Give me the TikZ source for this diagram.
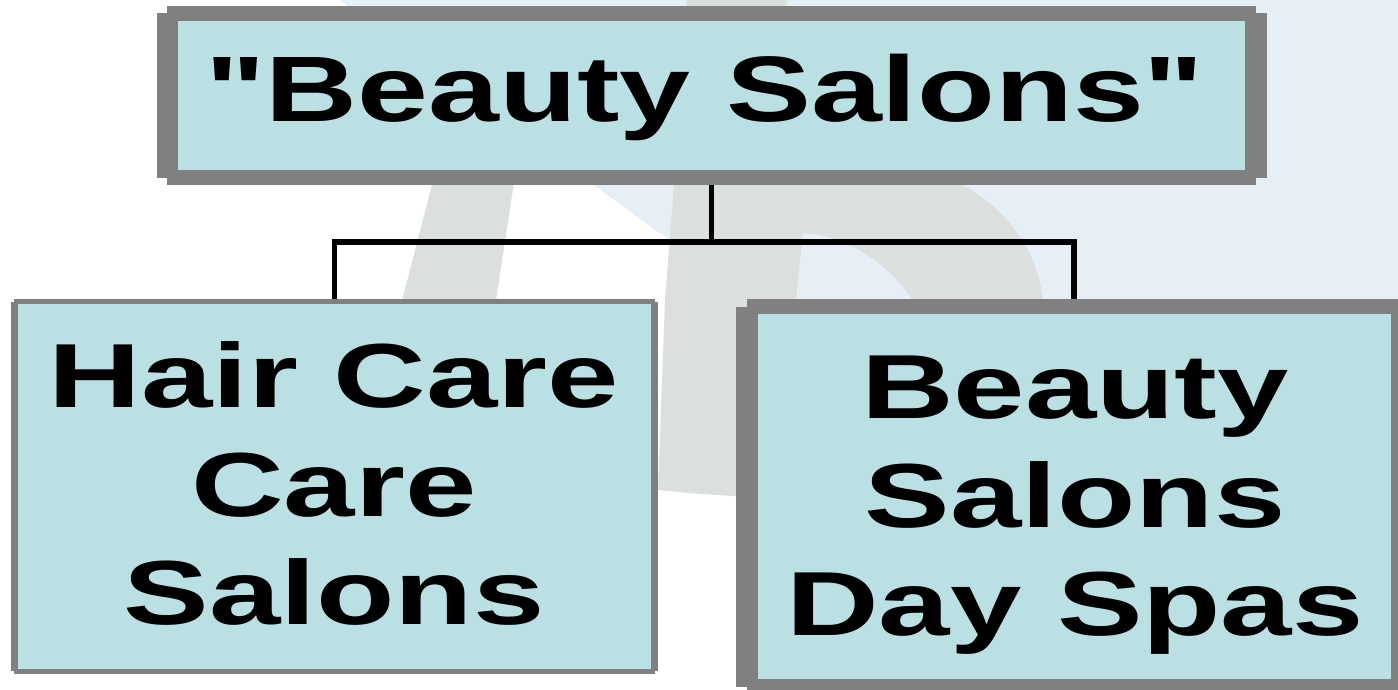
\documentclass[tikz,border=0pt]{standalone}
\usepackage{fontspec}
\newfontfamily\topfont{Liberation Sans}[FakeStretch=1.37]
\newfontfamily\boxfont{Liberation Sans}[FakeStretch=1.41]
\definecolor{boxfill}{RGB}{187,224,227}
\definecolor{framegray}{RGB}{128,128,128}
\definecolor{wmblue}{RGB}{230,238,246}
\definecolor{wmgray}{RGB}{219,224,223}
\begin{document}
\begin{tikzpicture}[x=1pt,y=-1pt,
  frame/.style={fill=framegray, draw=none, inner sep=0pt, outer sep=0pt},
  lbl/.style={font=\boxfont\bfseries\fontsize{91}{108.5}\selectfont, align=center, inner sep=0pt, text=black},
  conn/.style={draw=black, line width=5.5pt, line join=miter}]
\useasboundingbox (0,0) rectangle (1398,690);
% watermark
\fill[wmblue] (340,0) -- (1412,0) -- (1412,700) -- (1300,700) -- cycle;
\fill[wmgray] (687,0) -- (787,0) -- (792,150) .. controls (880,140) and (930,160) .. (963,185)
  .. controls (1015,215) and (1038,258) .. (1043,300)
  .. controls (1070,400) and (950,500) .. (800,498)
  .. controls (720,497) and (680,492) .. (658,490) -- (665,300) -- (674,185) -- cycle;
\fill[wmgray] (441,150) -- (519,150) -- (493,320) -- (397,320) -- cycle;
\fill[wmblue] (803,233) .. controls (850,236) and (890,265) .. (916,305)
  .. controls (950,360) .. (940,420) -- (796,420) -- (796,300) -- cycle;
% frames
\node[frame, minimum width=1089pt, minimum height=179pt] (top) at (711.5,95.5) {};
\fill[framegray] (157,13) rectangle (1267,178);
\fill[boxfill] (178,21) rectangle (1245,170);
\node[frame, minimum width=641pt, minimum height=375pt] (left) at (334.5,486.5) {};
\fill[framegray] (11,302) rectangle (658,671);
\fill[boxfill] (18,304) rectangle (651,669);
\node[frame, minimum width=654pt, minimum height=396pt] (right) at (1074,497) {};
\fill[framegray] (736,307) rectangle (1412,687);
\fill[boxfill] (758,314) rectangle (1391,679);
% connectors
\coordinate (hb) at (711.5,242);
\draw[conn] (top.south) -- (top.south |- hb);
\draw[conn] (left.north) -- (left.north |- hb) -- (right.north |- hb) -- (right.north);
% texts
\node[lbl, anchor=base, font=\topfont\bfseries\fontsize{93}{108}\selectfont] (ttop) at (705,122) {"Beauty Salons"};
\node[lbl] (tleft) at (334,483.5) {Hair Care\\Care\\Salons};
\node[lbl] (tright) at (1075,505.5) {Beauty\\Salons\\Day Spas};
\end{tikzpicture}
\end{document}
